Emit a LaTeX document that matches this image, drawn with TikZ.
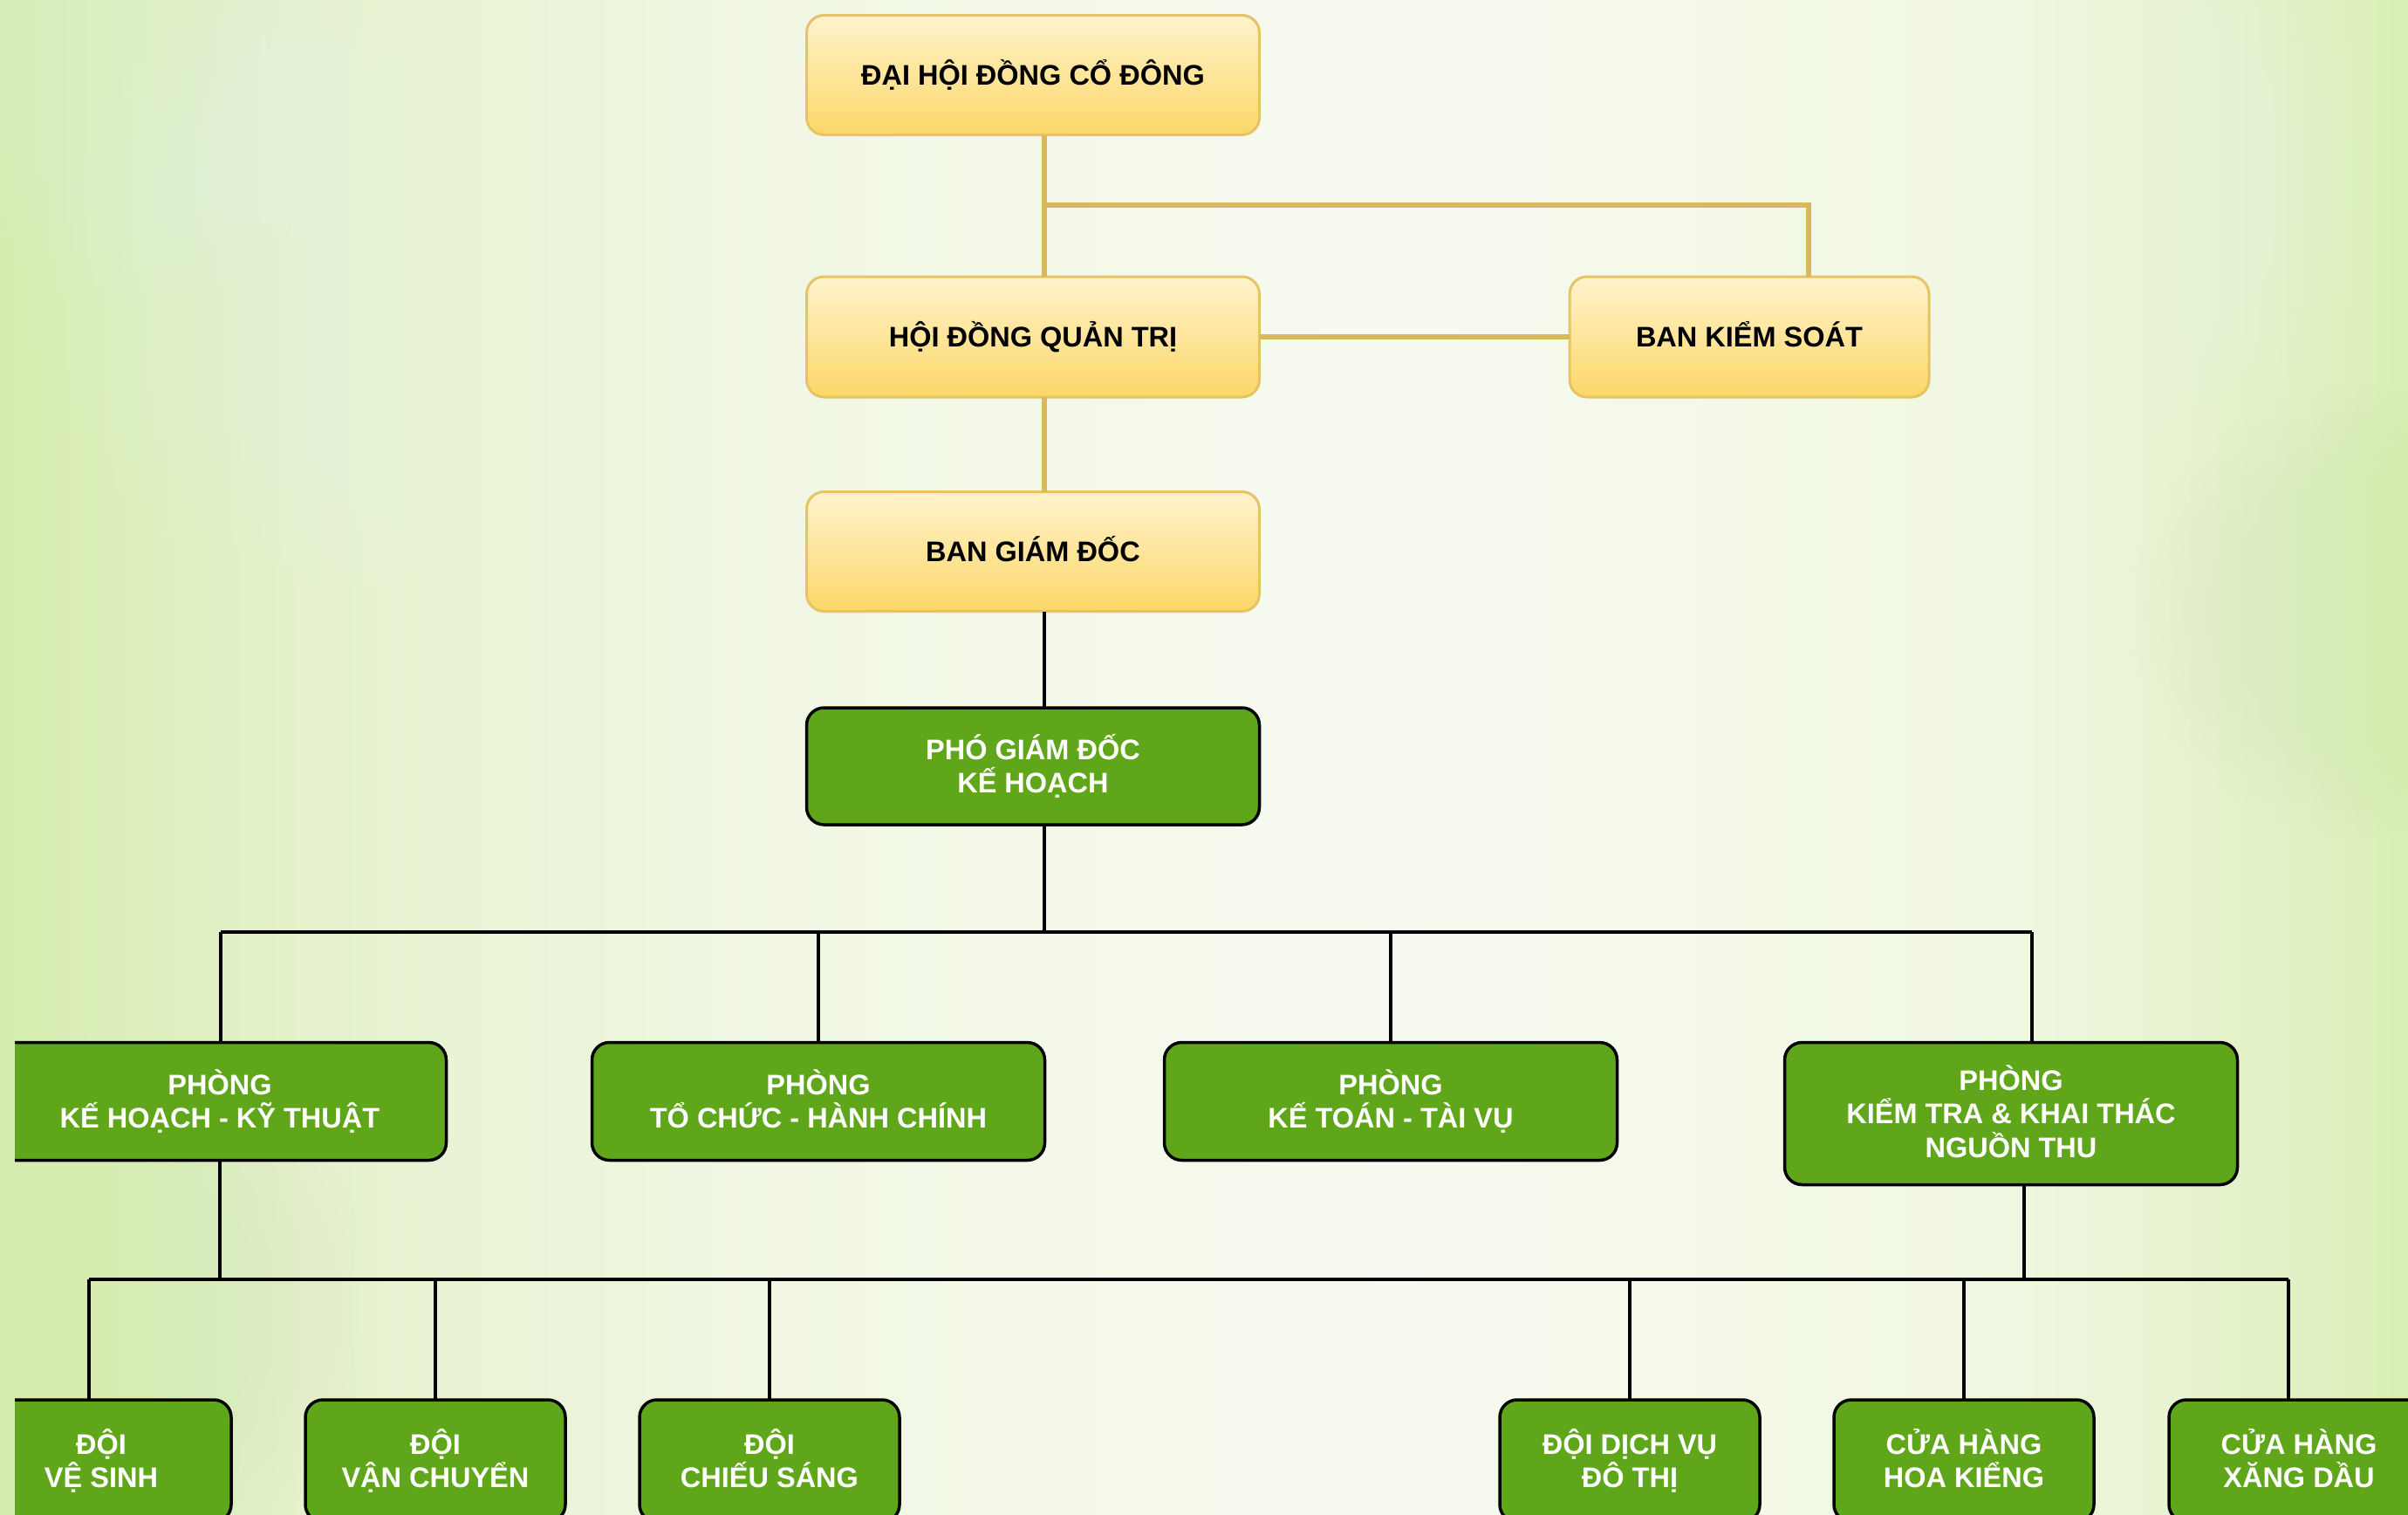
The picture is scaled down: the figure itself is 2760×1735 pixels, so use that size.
\documentclass[tikz,border=0pt]{standalone}
\usepackage{fontspec}
\setmainfont{Liberation Sans}
\definecolor{bgA}{HTML}{D5ECAE}
\definecolor{bgB}{HTML}{E5F2CD}
\definecolor{bgC}{HTML}{F1F7E4}
\definecolor{bgD}{HTML}{F7FAF0}
\definecolor{bgE}{HTML}{F0F7E1}
\definecolor{bgF}{HTML}{E3F2C8}
\definecolor{bgG}{HTML}{D8EEB3}
\definecolor{ytop}{HTML}{FFF3CC}
\definecolor{ybot}{HTML}{FCD768}
\definecolor{ybord}{HTML}{E6C465}
\definecolor{ylinec}{HTML}{D9B95E}
\definecolor{gfill}{HTML}{5FA61A}
\newcommand\boxfont{\fontsize{32.5}{38.5}\selectfont\bfseries\lineskiplimit=-100pt\relax}
\newcommand\ta{\rule{0pt}{32pt}}
\newcommand\tz{\rule[-8.7pt]{0pt}{8.7pt}}
\tikzset{
  ybox/.style={rectangle, rounded corners=20pt, draw=ybord, line width=3pt,
    top color=ytop, bottom color=ybot, minimum width=519pt, minimum height=137pt,
    text=black, font=\boxfont, align=center, outer sep=0pt, inner sep=0pt},
  gbox/.style={rectangle, rounded corners=20pt, draw=black, line width=3.5pt,
    fill=gfill, text=white, font=\boxfont, align=center, outer sep=0pt, inner sep=0pt,
    minimum width=519pt, minimum height=135pt},
  sbox/.style={gbox, minimum width=298pt, minimum height=140pt},
  yline/.style={draw=ylinec, line width=6pt},
  bline/.style={draw=black, line width=3.5pt},
}
\newcommand\bokeh[4]{% x y r colour
  \foreach \k in {1,...,8}{\fill[#4, opacity=0.025] (#1,#2) circle ({#3*(0.55+0.06*\k)});}}
\begin{document}
\begin{tikzpicture}[x=1pt,y=-1pt]
\useasboundingbox (0,0) rectangle (2760,1735);
\clip (0,0) rectangle (2760,1735);
% background
\shade[left color=bgA, right color=bgB] (0,0) rectangle (350,1735);
\shade[left color=bgB, right color=bgC] (350,0) rectangle (900,1735);
\shade[left color=bgC, right color=bgD] (900,0) rectangle (1600,1735);
\shade[left color=bgD, right color=bgE] (1600,0) rectangle (2300,1735);
\shade[left color=bgE, right color=bgF] (2300,0) rectangle (2600,1735);
\shade[left color=bgF, right color=bgG] (2600,0) rectangle (2760,1735);
\bokeh{380}{330}{330}{white}
\bokeh{150}{80}{260}{white}
\bokeh{120}{1500}{300}{bgA}
\bokeh{2450}{200}{280}{white}
\bokeh{2700}{700}{250}{bgA}
\bokeh{700}{1350}{220}{white}

% yellow boxes
\node[ybox] (dhd)  at (1184,86)  {\ta ĐẠI HỘI ĐỒNG CỔ ĐÔNG\tz};
\node[ybox, minimum height=138pt] (hdqt) at (1184,386) {\ta HỘI ĐỒNG QUẢN TRỊ\tz};
\node[ybox, minimum width=412pt, minimum height=138pt] (bks) at (2005,386) {\ta BAN KIỂM SOÁT\tz};
\node[ybox] (bgd)  at (1184,632) {\ta BAN GIÁM ĐỐC\tz};
% green
\node[gbox, minimum height=134pt] (pgd) at (1184,878) {\ta PHÓ GIÁM ĐỐC\\KẾ HOẠCH\tz};
\begin{scope}
\clip (17,0) rectangle (2760,1735);
\node[gbox] (khkt) at (252,1262) {\ta PHÒNG\\KẾ HOẠCH - KỸ THUẬT\tz};
\node[gbox] (tchc) at (938,1262) {\ta PHÒNG\\TỔ CHỨC - HÀNH CHÍNH\tz};
\node[gbox] (kttv) at (1594,1262) {\ta PHÒNG\\KẾ TOÁN - TÀI VỤ\tz};
\node[gbox, minimum height=163pt] (ktkt) at (2305,1276) {\ta PHÒNG\\KIỂM TRA \& KHAI THÁC\\NGUỒN THU\tz};
\node[sbox] (vs) at (116,1674) {\ta ĐỘI\\VỆ SINH\tz};
\node[sbox] (vc) at (499,1674) {\ta ĐỘI\\VẬN CHUYỂN\tz};
\node[sbox] (cs) at (882,1674) {\ta ĐỘI\\CHIẾU SÁNG\tz};
\node[sbox] (dv) at (1868,1674) {\ta ĐỘI DỊCH VỤ\\ĐÔ THỊ\tz};
\node[sbox] (hk) at (2251,1674) {\ta CỬA HÀNG\\HOA KIỂNG\tz};
\node[sbox] (xd) at (2635,1674) {\ta CỬA HÀNG\\XĂNG DẦU\tz};
\end{scope}

% yellow connectors
\coordinate (ja) at (1197,235);
\coordinate (jb) at (2073,235);
\draw[yline] (dhd.south -| ja) -- (hdqt.north -| ja);
\draw[yline] (ja) -| (bks.north -| jb);
\draw[yline] (hdqt.east) -- (bks.west);
\draw[yline] (hdqt.south -| ja) -- (bgd.north -| ja);
% black connectors
\draw[bline] (bgd.south -| ja) -- (pgd.north -| ja);
\coordinate (jc) at (1197,1068);
\coordinate (hl) at (253,1068);
\coordinate (hr) at (2329,1068);
\draw[bline] (pgd.south -| jc) -- (jc);
\draw[bline] (hl) -- (hr);
\draw[bline] (hl) -- (khkt.north -| hl);
\draw[bline] (tchc.north |- jc) -- (tchc.north);
\draw[bline] (kttv.north |- jc) -- (kttv.north);
\draw[bline] (hr) -- (ktkt.north -| hr);
\coordinate (hl2) at (102,1466);
\coordinate (hr2) at (2623,1466);
\coordinate (kk) at (2320,1466);
\draw[bline] (khkt.south) -- (khkt.south |- hl2);
\draw[bline] (ktkt.south -| kk) -- (kk);
\draw[bline] (hl2) -- (hr2);
\draw[bline] (hl2) -- (vs.north -| hl2);
\draw[bline] (vc.north |- hl2) -- (vc.north);
\draw[bline] (cs.north |- hl2) -- (cs.north);
\draw[bline] (dv.north |- hl2) -- (dv.north);
\draw[bline] (hk.north |- hl2) -- (hk.north);
\draw[bline] (hr2) -- (xd.north -| hr2);
\end{tikzpicture}
\end{document}
